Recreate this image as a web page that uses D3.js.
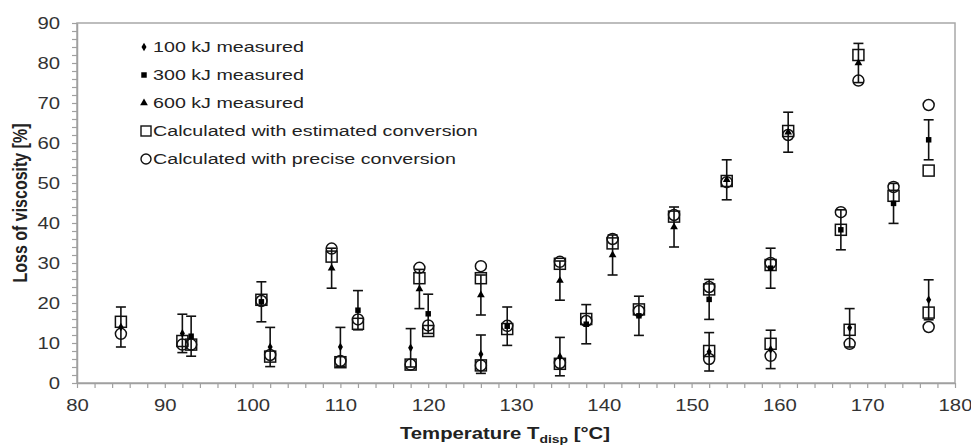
<!DOCTYPE html>
<html>
<head>
<meta charset="utf-8">
<script src="https://cdn.jsdelivr.net/npm/d3@7"></script>
<style>
  body { margin: 0; background: #fff; }
  svg { display: block; font-family: "Liberation Sans", Arial, sans-serif; }
</style>
</head>
<body>
<div id="wrapper"></div>
<script>
// measured points (temperature, loss of viscosity, error)
const temps100 = [85, 92, 102, 110, 118, 126, 135, 152, 159, 168, 177]
const vals100 = [14, 12.4, 9, 9, 8.8, 7.2, 6.6, 7.8, 8.4, 13.8, 20.8]
const err100 = [5, 4.8, 4.9, 4.9, 4.8, 4.8, 4.8, 4.8, 4.8, 4.8, 5]

const temps300 = [93, 101, 112, 120, 129, 138, 144, 152, 159, 167, 173, 177]
const vals300 = [11.7, 20.3, 18.2, 17.3, 14.2, 14.7, 16.8, 20.9, 28.7, 38.3, 44.9, 60.8]
const err300 = [5, 5, 4.9, 4.9, 4.8, 4.9, 4.9, 5, 5, 5, 5, 5]

const temps600 = [109, 119, 126, 135, 141, 148, 154, 161, 169]
const vals600 = [28.7, 23.5, 22, 25.6, 32, 39, 50.8, 62.7, 80]
const err600 = [5, 4.9, 5, 4.9, 5, 5, 5, 5, 4.9]

// calculated points
const calcTemps = [85, 92, 93, 101, 102, 109, 110, 112, 118, 119, 120, 126, 126, 129, 135, 135,
    138, 141, 144, 148, 152, 152, 154, 159, 159, 161, 167, 168, 169, 173, 177, 177]
const estimated = [15.3, 10.5, 9.6, 20.8, 6.6, 31.6, 5.2, 14.8, 4.6, 26.2, 13, 26.2, 4.4, 13.5, 29.8, 4.8,
    16, 34.9, 18.4, 41.6, 23.4, 8, 50.5, 29.5, 9.8, 63, 38.3, 13.3, 82, 46.8, 53.1, 17.6]
const precise = [12.3, 9.6, 9.6, 20.5, 7, 33.6, 5.5, 15.9, 4.6, 28.8, 14.4, 29.2, 4.4, 14.3, 30.3, 5,
    15.5, 36, 18, 42, 24, 6, 50.2, 30, 6.8, 62, 42.7, 9.8, 75.6, 49, 69.5, 14]

const xTicks = [80, 90, 100, 110, 120, 130, 140, 150, 160, 170, 180]
const yTicks = [0, 10, 20, 30, 40, 50, 60, 70, 80, 90]
const legendLabels = ["100 kJ measured", "300 kJ measured", "600 kJ measured",
    "Calculated with estimated conversion", "Calculated with precise conversion"]

// the reference text is a bit wide, stretch it horizontally
const SX = 1.27

const dimensions = {
    width: 971,
    height: 448,
    margin: { top: 23, right: 16, bottom: 65, left: 77 },
}
dimensions.boundedWidth = dimensions.width - dimensions.margin.left - dimensions.margin.right
dimensions.boundedHeight = dimensions.height - dimensions.margin.top - dimensions.margin.bottom

const svg = d3.select("#wrapper").append("svg")
    .attr("width", dimensions.width)
    .attr("height", dimensions.height)

const bounds = svg.append("g")
    .attr("transform", `translate(${dimensions.margin.left},${dimensions.margin.top})`)

const xScale = d3.scaleLinear().domain([80, 180]).range([0, dimensions.boundedWidth])
const yScale = d3.scaleLinear().domain([0, 90]).range([dimensions.boundedHeight, 0])

// plot frame
bounds.append("rect")
    .attr("width", dimensions.boundedWidth)
    .attr("height", dimensions.boundedHeight)
    .attr("fill", "none")
    .attr("stroke", "#a8a8a8")
    .attr("stroke-width", 1.5)

// axes with minor ticks every 2
const xAxis = bounds.append("g")
    .attr("transform", `translate(0,${dimensions.boundedHeight})`)
    .call(d3.axisBottom(xScale)
        .tickValues(d3.range(80, 181, 2))
        .tickFormat(d => xTicks.includes(d) ? d : "")
        .tickSize(5)
        .tickSizeOuter(0))

const yAxis = bounds.append("g")
    .call(d3.axisLeft(yScale)
        .tickValues(d3.range(0, 91, 2))
        .tickFormat(d => yTicks.includes(d) ? d : "")
        .tickSize(5)
        .tickSizeOuter(0))

;[xAxis, yAxis].forEach(ax => {
    ax.select(".domain").attr("stroke", "#a0a0a0").attr("stroke-width", 1.5)
    ax.selectAll(".tick line").attr("stroke", "#a0a0a0").attr("stroke-width", 1.2)
    ax.selectAll(".tick text")
        .attr("fill", "#333")
        .style("font-size", "16px")
        .style("font-family", "'Liberation Sans', Arial, sans-serif")
})
xAxis.selectAll(".tick text")
    .attr("y", 22).attr("dy", "0.35em")
    .attr("transform", `scale(${SX},1)`)
yAxis.selectAll(".tick text")
    .attr("x", -17 / SX)
    .attr("transform", `scale(${SX},1)`)

// axis titles
const xTitle = svg.append("text")
    .attr("transform", `translate(505,439) scale(${SX},1)`)
    .attr("text-anchor", "middle")
    .attr("fill", "#222")
    .style("font-size", "16px")
    .style("font-weight", "bold")
xTitle.append("tspan").text("Temperature T")
xTitle.append("tspan").text("disp").attr("dy", 4).style("font-size", "11px")
xTitle.append("tspan").text(" [°C]").attr("dy", -4)

svg.append("text")
    .attr("transform", `translate(27,203) rotate(-90) scale(1,${SX})`)
    .attr("text-anchor", "middle")
    .attr("fill", "#222")
    .style("font-size", "16px")
    .style("font-weight", "bold")
    .text("Loss of viscosity [%]")

// marker shapes
const diamond = d3.symbol().type(d3.symbolDiamond).size(22)
const smallSquare = d3.symbol().type(d3.symbolSquare).size(30)
const triangle = d3.symbol().type(d3.symbolTriangle).size(26)

const measured = [
    { temps: temps100, vals: vals100, errs: err100, shape: diamond },
    { temps: temps300, vals: vals300, errs: err300, shape: smallSquare },
    { temps: temps600, vals: vals600, errs: err600, shape: triangle },
]

// error bars first
const capW = 5
measured.forEach(s => {
    const pts = s.temps.map((t, i) => ({ t, v: s.vals[i], e: s.errs[i] }))
    const bars = bounds.append("g").attr("stroke", "#111").attr("stroke-width", 1.6)
    bars.selectAll("line.stem").data(pts).join("line")
        .attr("x1", d => xScale(d.t)).attr("x2", d => xScale(d.t))
        .attr("y1", d => yScale(d.v - d.e)).attr("y2", d => yScale(d.v + d.e))
    bars.selectAll("line.capTop").data(pts).join("line")
        .attr("class", "capTop")
        .attr("x1", d => xScale(d.t) - capW).attr("x2", d => xScale(d.t) + capW)
        .attr("y1", d => yScale(d.v + d.e)).attr("y2", d => yScale(d.v + d.e))
    bars.selectAll("line.capBot").data(pts).join("line")
        .attr("class", "capBot")
        .attr("x1", d => xScale(d.t) - capW).attr("x2", d => xScale(d.t) + capW)
        .attr("y1", d => yScale(d.v - d.e)).attr("y2", d => yScale(d.v - d.e))
})

// calculated markers (open)
const calc = calcTemps.map((t, i) => ({ t, est: estimated[i], pre: precise[i] }))
bounds.append("g").selectAll("rect").data(calc).join("rect")
    .attr("x", d => xScale(d.t) - 5.5)
    .attr("y", d => yScale(d.est) - 5.5)
    .attr("width", 11).attr("height", 11)
    .attr("fill", "none").attr("stroke", "#111").attr("stroke-width", 1.5)
bounds.append("g").selectAll("circle").data(calc).join("circle")
    .attr("cx", d => xScale(d.t))
    .attr("cy", d => yScale(d.pre))
    .attr("r", 5.5)
    .attr("fill", "none").attr("stroke", "#111").attr("stroke-width", 1.5)

// measured markers (filled)
measured.forEach(s => {
    bounds.append("g").selectAll("path").data(s.temps).join("path")
        .attr("d", s.shape)
        .attr("transform", (t, i) => `translate(${xScale(t)},${yScale(s.vals[i])})`)
        .attr("fill", "#000")
})

// legend
const legend = svg.append("g")
const rowY = i => 47 + i * 28
legendLabels.forEach((label, i) => {
    const y = rowY(i)
    if (i < 3) {
        legend.append("path")
            .attr("d", measured[i].shape)
            .attr("transform", `translate(144,${y})`)
            .attr("fill", "#000")
    } else if (i === 3) {
        legend.append("rect")
            .attr("x", 141).attr("y", y - 5).attr("width", 10).attr("height", 10)
            .attr("fill", "none").attr("stroke", "#111").attr("stroke-width", 1.4)
    } else {
        legend.append("circle")
            .attr("cx", 146).attr("cy", y).attr("r", 5)
            .attr("fill", "none").attr("stroke", "#111").attr("stroke-width", 1.4)
    }
    legend.append("text")
        .attr("transform", `translate(153,${y}) scale(${SX},1)`)
        .attr("dy", "0.35em")
        .attr("fill", "#222")
        .style("font-size", "15.5px")
        .text(label)
})
</script>
</body>
</html>
